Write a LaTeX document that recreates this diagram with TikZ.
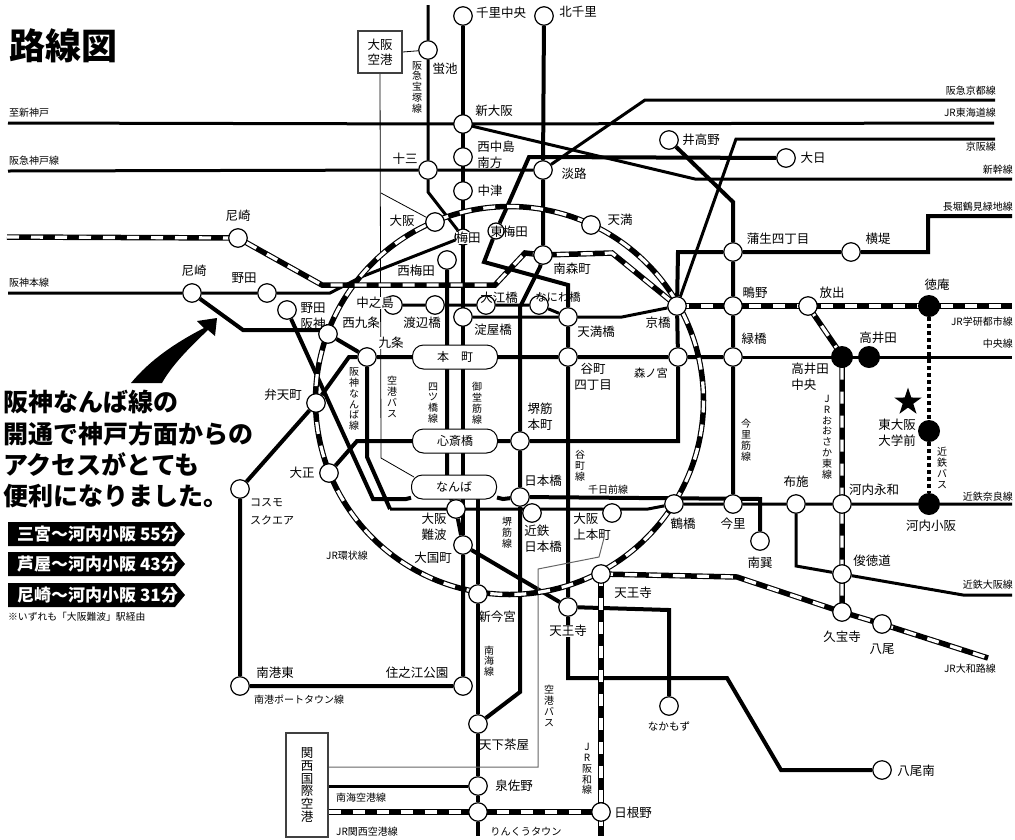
\documentclass[tikz,border=0pt]{standalone}
\usepackage{fontspec}
\setmainfont{Noto Sans CJK JP}
\usetikzlibrary{backgrounds}
\usetikzlibrary{shapes.geometric}
\tikzset{
	station/.style={circle,draw=black,fill=white,line width=1.2pt,minimum size=18.5pt,inner sep=0pt},
	smallstation/.style={station,minimum size=16pt},
	blackstation/.style={circle,fill=black,minimum size=22pt,inner sep=0pt},
	pill/.style={rectangle,rounded corners=11pt,draw=black,fill=white,line width=1pt,minimum width=85pt,minimum height=24pt,inner sep=0pt,font=\fontsize{12}{14}\selectfont},
	stname/.style={inner sep=0pt,align=center,font=\fontsize{12.5}{16}\selectfont},
	smallname/.style={inner sep=0pt,align=center,font=\fontsize{11.3}{14}\selectfont},
	whitename/.style={stname,fill=white},
	linename/.style={inner sep=0pt,align=center,font=\fontsize{10}{11}\selectfont},
	tatename/.style={inner sep=0pt,align=center,font=\fontsize{10}{10.8}\selectfont},
	subway/.style={line width=4pt,draw=black},
	railway/.style={line width=3pt,draw=black},
	hair/.style={line width=0.8pt,draw=black},
	busline/.style={line width=1pt,draw=black!60},
	jrline/.style={line width=5.5pt,draw=black,postaction={draw=white,line width=3.2pt,dash pattern=on 12pt off 12pt}},
	dotbus/.style={line width=4pt,draw=black,dash pattern=on 4pt off 3pt},
	airportbox/.style={rectangle,draw=black!75,fill=white,line width=1.2pt,inner sep=0pt,align=center,font=\fontsize{12.5}{15}\selectfont},
	appeal/.style={inner sep=0pt,anchor=west,font=\fontsize{25}{28}\selectfont\bfseries},
}
\begin{document}
\begin{tikzpicture}[x=1pt,y=-1pt]
	\useasboundingbox (0,0) rectangle (1015,839);
	% stations
	\node[station] (senri) at (463,16) {};
	\node[station] (kitasenri) at (544,16) {};
	\node[station] (hotarugaike) at (428,50) {};
	\node[station] (shinosaka) at (463,124) {};
	\node[station] (nishinaka) at (463,157) {};
	\node[station] (juso) at (428,170) {};
	\node[station] (nakatsu) at (463,191) {};
	\node[station] (awaji) at (543,170) {};
	\node[station] (itakano) at (669,140) {};
	\node[station] (dainichi) at (786,158) {};
	\node[station] (amajr) at (238,238) {};
	\node[station] (amahs) at (192,293) {};
	\node[station] (noda) at (267,293) {};
	\node[station] (nodahs) at (287,310) {};
	\node[station] (osaka) at (435,222) {};
	\node[smallstation] (umeda) at (463,237) {};
	\node[smallstation] (higashiumeda) at (496,231) {};
	\node[station] (nishiumeda) at (447,260) {};
	\node[station] (tenma) at (591,225) {};
	\node[station] (minamimori) at (543,255) {};
	\node[station] (nakanoshima) at (393,305) {};
	\node[station] (watanabe) at (435,305) {};
	\node[station] (oebashi) at (486,305) {};
	\node[station] (yodoyabashi) at (463,317) {};
	\node[station] (naniwabashi) at (539,305) {};
	\node[station] (tenmabashi) at (568,317) {};
	\node[station] (kyobashi) at (677,306) {};
	\node[station] (shigino) at (733,306) {};
	\node[station] (hanaten) at (808,306) {};
	\node[blackstation] (tokuan) at (929,306) {};
	\node[station] (gamo) at (733,252) {};
	\node[station] (yokozutsumi) at (851,252) {};
	\node[station] (nishikujo) at (328,334) {};
	\node[station] (kujo) at (367,357) {};
	\node[station] (tani4) at (568,357) {};
	\node[station] (morinomiya) at (678,357) {};
	\node[station] (midoribashi) at (733,357) {};
	\node[blackstation] (takaidachuo) at (842,357) {};
	\node[blackstation] (takaida) at (869,357) {};
	\node[blackstation] (higashiosaka) at (929,431) {};
	\node[station] (bentencho) at (316,403) {};
	\node[station] (taisho) at (329,473) {};
	\node[station] (cosmo) at (240,489) {};
	\node[station] (sakaisuji) at (520,441) {};
	\node[station] (kintetsunippon) at (532,513) {};
	\node[station] (nipponbashi) at (520,497) {};
	\node[station] (uehonmachi) at (612,513) {};
	\node[station] (tsuruhashi) at (674,504) {};
	\node[station] (imazato) at (733,504) {};
	\node[station] (fuse) at (796,504) {};
	\node[station] (kawachieiwa) at (842,504) {};
	\node[blackstation] (kawachikosaka) at (929,504) {};
	\node[station] (minamitatsumi) at (760,541) {};
	\node[station] (shuntokumichi) at (842,574) {};
	\node[station] (kyuhoji) at (842,612) {};
	\node[station] (yao) at (882,624) {};
	\node[station] (tennojijr) at (601,574) {};
	\node[station] (tennoji) at (568,607) {};
	\node[station] (shinimamiya) at (478,594) {};
	\node[station] (daikokucho) at (463,545) {};
	\node[station] (osakananba) at (456,509) {};
	\node[station] (nankohigashi) at (240,686) {};
	\node[station] (suminoe) at (463,686) {};
	\node[station] (tengachaya) at (478,724) {};
	\node[station] (izumisano) at (478,786) {};
	\node[station] (rinku) at (478,812) {};
	\node[station] (hineno) at (601,812) {};
	\node[station] (nakamozu) at (669,706) {};
	\node[station] (yaominami) at (882,770) {};
	\node[pill] (honmachi) at (455,357) {本\hspace{1em}町};
	\node[pill] (shinsaibashi) at (455,441) {心斎橋};
	\node[pill] (nanba) at (454,487) {なんば};
	\node[airportbox,minimum width=44pt,minimum height=42pt] (itami) at (380,52) {大阪\\空港};
	\node[airportbox,minimum width=42pt,minimum height=104pt,font=\fontsize{12.5}{12.8}\selectfont] (kansai) at (307,785) {関\\西\\国\\際\\空\\港};
	% lines
	\begin{scope}[on background layer]
		\draw[railway] (8,123) -- (shinosaka.center) -- (994,123);
		\draw[railway] (shinosaka.center) -- (695,179) -- (1012,179);
		\draw[railway] (8,171) -- (juso) -- (awaji) -- (645,100) -- (995,100);
		\draw[railway] (428,5) -- (hotarugaike) -- (juso) -- (428,192) -- (umeda);
		\draw[railway] (995,139) -- (736,139) -- (kyobashi) -- (622,317) -- (tenmabashi) -- (yodoyabashi);
		\draw[railway] (nakanoshima) -- (watanabe) -- (oebashi) -- (naniwabashi) -- (tenmabashi);
		\draw[railway] (8,293) -- (amahs) -- (noda) -- (330,293) -- (361,277) -- (umeda);
		\draw[subway] (amahs) -- (243,330) -- (328,330) -- (nishikujo);
		\draw[subway] (nishikujo) -- (kujo) -- (367,457) -- (390,509);
		\draw[railway] (390,509) -- (648,509) -- (tsuruhashi) -- (imazato) -- (fuse) -- (kawachieiwa) -- (kawachikosaka) -- (1012,504);
		\draw[subway] (senri) -- (daikokucho);
		\draw[subway] (daikokucho) -- (suminoe) -- (nankohigashi) -- (cosmo) -- (bentencho) -- (349,357) -- (kujo) -- (honmachi) -- (tani4) -- (morinomiya) -- (midoribashi);
		\draw[railway] (midoribashi) -- (1012,357);
		\draw[subway] (daikokucho) -- (tennoji) -- (669,610) -- (nakamozu);
		\draw[subway] (nishiumeda) -- (447,490) -- (osakananba) -- (daikokucho);
		\draw[subway] (kitasenri) -- (awaji) -- (minamimori) -- (540,267) -- (520,307) -- (sakaisuji) -- (nipponbashi) -- (520,692) -- (tengachaya);
		\draw[subway] (dainichi) -- (529,157) -- (507,207) -- (higashiumeda) -- (484,262) -- (568,285) -- (tenmabashi) -- (tani4) -- (tennoji) -- (568,678) -- (727,678) -- (781,770) -- (yaominami);
		\draw[subway] (itakano) -- (733,202) -- (gamo) -- (shigino) -- (midoribashi) -- (imazato);
		\draw[subway] (1012,216) -- (928,216) -- (928,252) -- (yokozutsumi) -- (gamo) -- (678,252) -- (kyobashi) -- (morinomiya) -- (678,441) -- (sakaisuji) -- (shinsaibashi) -- (357,441) -- (taisho);
		\draw[subway] (nodahs) -- (373,499) -- (406,499) -- (nanba) -- (503,499) -- (nipponbashi) -- (760,499) -- (minamitatsumi);
		\draw[railway] (fuse) -- (796,566) -- (shuntokumichi) -- (963,595) -- (1012,595);
		\draw[subway] (478,495) -- (shinimamiya) -- (tengachaya) -- (izumisano) -- (rinku) -- (478,836);
		\draw[railway] (kansai.east |- izumisano) -- (izumisano);
		\draw[busline] (kansai.east |- 0,767) -- (538,767) -- (538,569) -- (599,557) -- (604,538);
		\draw[hair] (itami.east) -- (hotarugaike);
		\draw[hair] (itami.south) -- (381,458) -- (414,477);
		\draw[hair] (381,193) -- (osaka);
		\draw[dotbus] (tokuan) -- (higashiosaka);
		\draw[dotbus] (higashiosaka) -- (kawachikosaka);
		\draw[jrline] (509.5,400.5) circle (194);
		\draw[jrline] (7,237) -- (amajr.center) -- (322,285) -- (495,285) -- (525,253) -- (minamimori.center) -- (612,253) -- (kyobashi.center);
		\draw[jrline] (kyobashi.center) -- (shigino.center) -- (hanaten.center) -- (tokuan.center) -- (1012,306);
		\draw[jrline] (hanaten.center) -- (836,347) -- (takaidachuo.center) -- (kawachieiwa.center) -- (shuntokumichi.center) -- (kyuhoji.center);
		\draw[jrline] (tennojijr.center) -- (737,577) -- (kyuhoji.center) -- (yao.center) -- (988,658);
		\draw[jrline] (tennojijr.center) -- (hineno.center) -- (601,836);
		\draw[jrline] (kansai.east |- rinku) -- (rinku.center) -- (hineno.center);
	\end{scope}
	% station names
	\node[stname] (nsenri) at (501,13) {千里中央};
	\node[stname] (nkitasenri) at (578,12) {北千里};
	\node[stname] (nhotaru) at (445,69) {蛍池};
	\node[stname] (nshinosaka) at (494,111) {新大阪};
	\node[stname,align=left] (nnishinaka) at (496,155) {西中島\\南方};
	\node[stname] (njuso) at (405,159) {十三};
	\node[stname] (nnakatsu) at (490,191) {中津};
	\node[stname] (nawaji) at (574,174) {淡路};
	\node[stname] (nitakano) at (701,140) {井高野};
	\node[stname] (ndainichi) at (813,158) {大日};
	\node[stname] (namajr) at (238,216) {尼崎};
	\node[stname] (namahs) at (194,271) {尼崎};
	\node[stname] (nnoda) at (244,278) {野田};
	\node[stname] (nosaka) at (402,221) {大阪};
	\node[whitename] (numeda) at (468,238) {梅田};
	\node[stname] (nhigashiumeda) at (509,232) {東梅田};
	\node[stname] (ntenma) at (620,220) {天満};
	\node[stname] (ngamo) at (778,239) {蒲生四丁目};
	\node[stname] (nyokozutsumi) at (878,239) {横堤};
	\node[stname] (nnishiumeda) at (416,271) {西梅田};
	\node[stname] (nminamimori) at (572,269) {南森町};
	\node[stname] (nshigino) at (755,293) {鴫野};
	\node[stname] (nhanaten) at (832,293) {放出};
	\node[stname] (ntokuan) at (937,285) {徳庵};
	\node[stname] (nnodahs) at (313,316) {野田\\阪神};
	\node[whitename] (nnakanoshima) at (375,303) {中之島};
	\node[stname] (nwatanabe) at (422,323) {渡辺橋};
	\node[stname] (noebashi) at (499,298) {大江橋};
	\node[smallname] (nnaniwabashi) at (558,297) {なにわ橋};
	\node[stname] (nyodoyabashi) at (493,330) {淀屋橋};
	\node[stname] (ntenmabashi) at (596,332) {天満橋};
	\node[stname] (nkyobashi) at (658,323) {京橋};
	\node[stname] (nmidoribashi) at (754,339) {緑橋};
	\node[stname] (ntakaida) at (878,338) {高井田};
	\node[whitename] (nnishikujo) at (361,323) {西九条};
	\node[whitename] (nkujo) at (391,343) {九条};
	\node[stname] (ntani4) at (593,377) {谷町\\四丁目};
	\node[smallname] (nmorinomiya) at (651,373) {森ノ宮};
	\node[stname,align=left] (ntakaidachuo) at (810,377) {高井田\\中央};
	\node[stname] (nhigashiosaka) at (897,433) {東大阪\\大学前};
	\node[stname] (nsakaisuji) at (540,417) {堺筋\\本町};
	\node[stname] (nnipponbashi) at (543,481) {日本橋};
	\node[stname] (nbentencho) at (283,395) {弁天町};
	\node[stname] (ntaisho) at (302,473) {大正};
	\node[linename,align=left,font=\fontsize{11}{18}\selectfont] (ncosmo) at (272,512) {コスモ\\スクエア};
	\node[stname] (nosakananba) at (434,527) {大阪\\難波};
	\node[stname] (ndaikokucho) at (433,558) {大国町};
	\node[stname,align=left] (nkintetsunippon) at (543,539) {近鉄\\日本橋};
	\node[stname,align=left] (nuehonmachi) at (592,527) {大阪\\上本町};
	\node[stname] (ntsuruhashi) at (683,524) {鶴橋};
	\node[stname] (nimazato) at (733,524) {今里};
	\node[stname] (nfuse) at (796,482) {布施};
	\node[stname] (nkawachieiwa) at (874,490) {河内永和};
	\node[stname] (nkawachikosaka) at (931,526) {河内小阪};
	\node[stname] (nminamitatsumi) at (760,563) {南巽};
	\node[stname] (nshuntokumichi) at (872,561) {俊徳道};
	\node[stname] (nkyuhoji) at (842,637) {久宝寺};
	\node[stname] (nyao) at (882,649) {八尾};
	\node[stname] (ntennojijr) at (633,593) {天王寺};
	\node[whitename] (ntennoji) at (568,631) {天王寺};
	\node[stname] (nshinimamiya) at (497,617) {新今宮};
	\node[smallname,font=\fontsize{10.6}{13}\selectfont] (nnakamozu) at (669,726) {なかもず};
	\node[stname] (nyaominami) at (916,771) {八尾南};
	\node[stname] (nnankohigashi) at (275,673) {南港東};
	\node[stname] (nsuminoe) at (417,673) {住之江公園};
	\node[stname] (ntengachaya) at (504,745) {天下茶屋};
	\node[stname] (nizumisano) at (514,786) {泉佐野};
	\node[linename,font=\fontsize{10.2}{12}\selectfont] (nrinku) at (526,832) {りんくうタウン};
	\node[stname] (nhineno) at (633,813) {日根野};
	% line names
	\node[linename,anchor=west] (lshinkobe) at (9,113) {至新神戸};
	\node[linename,anchor=west] (lhankyukobe) at (9,161) {阪急神戸線};
	\node[linename,anchor=west] (lhanshin) at (9,283) {阪神本線};
	\node[linename,anchor=east] (lhankyukyoto) at (996,91) {阪急京都線};
	\node[linename,anchor=east] (ltokaido) at (996,113) {JR東海道線};
	\node[linename,anchor=east] (lkeihan) at (996,147) {京阪線};
	\node[linename,anchor=east] (lshinkansen) at (1013,170) {新幹線};
	\node[linename,anchor=east] (lnagahori) at (1013,207) {長堀鶴見緑地線};
	\node[linename,anchor=east] (lgakken) at (1013,322) {JR学研都市線};
	\node[linename,anchor=east] (lchuo) at (1013,344) {中央線};
	\node[linename,anchor=east] (lnara) at (1013,497) {近鉄奈良線};
	\node[linename,anchor=east] (lkintetsuosaka) at (1013,585) {近鉄大阪線};
	\node[linename,anchor=east] (lyamatoji) at (996,669) {JR大和路線};
	\node[linename] (lsennichimae) at (608,490) {千日前線};
	\node[linename] (lloop) at (347,556) {JR環状線};
	\node[linename] (lnanko) at (299,700) {南港ポートタウン線};
	\node[linename] (lnankaiair) at (361,798) {南海空港線};
	\node[linename] (ljrair) at (367,832) {JR関西空港線};
	\node[tatename] (ltakarazuka) at (417,87) {阪\\急\\宝\\塚\\線};
	\node[tatename] (lhanshinnanba) at (354,399) {阪\\神\\な\\ん\\ば\\線};
	\node[tatename] (lbus) at (392,397) {空\\港\\バ\\ス};
	\node[tatename] (lyotsubashi) at (433,403) {四\\ツ\\橋\\線};
	\node[tatename] (lmidosuji) at (477,403) {御\\堂\\筋\\線};
	\node[tatename] (ltanimachi) at (580,466) {谷\\町\\線};
	\node[tatename] (lsakaisuji) at (507,533) {堺\\筋\\線};
	\node[tatename] (limazatosuji) at (746,440) {今\\里\\筋\\線};
	\node[tatename] (losakahigashi) at (827,437) {J\\R\\お\\お\\さ\\か\\東\\線};
	\node[tatename] (lkintetsubus) at (942,468) {近\\鉄\\バ\\ス};
	\node[tatename] (lnankai) at (489,661) {南\\海\\線};
	\node[tatename] (lbus2) at (549,706) {空\\港\\バ\\ス};
	\node[tatename] (lhanwa) at (587,769) {J\\R\\阪\\和\\線};
	% title and notes
	\node[inner sep=0pt,anchor=west,font=\fontsize{36}{40}\selectfont\bfseries] (title) at (9,46) {路線図};
	\node[appeal] (appeal1) at (3,402) {阪神なんば線の};
	\node[appeal] (appeal2) at (3,434) {開通で神戸方面からの};
	\node[appeal] (appeal3) at (3,465) {アクセスがとても};
	\node[appeal] (appeal4) at (3,496) {便利になりました。};
	\foreach \yy/\nm/\txt in {534/badgea/三宮〜河内小阪 55分,564/badgeb/芦屋〜河内小阪 43分,595/badgec/尼崎〜河内小阪 31分}{
		\fill (8,\yy-12) -- (175,\yy-12) -- (185,\yy) -- (175,\yy+12) -- (8,\yy+12) -- cycle;
		\node[inner sep=0pt,anchor=west,text=white,font=\fontsize{17}{19}\selectfont\bfseries] (\nm) at (17,\yy) {\txt};
	}
	\node[inner sep=0pt,anchor=west,font=\fontsize{9.8}{11}\selectfont] (note) at (8,617) {※いずれも「大阪難波」駅経由};
	% big arrow and star
	\fill (131,383) .. controls (150,360) and (175,343) .. (204,328) -- (197,321) -- (217,318) -- (215,336) -- (208,330) .. controls (190,347) and (172,365) .. (162,383) -- cycle;
	\node[star,star points=5,star point ratio=2.6,fill=black,inner sep=0pt,minimum size=29pt] (star) at (908,402) {};
\end{tikzpicture}
\end{document}
